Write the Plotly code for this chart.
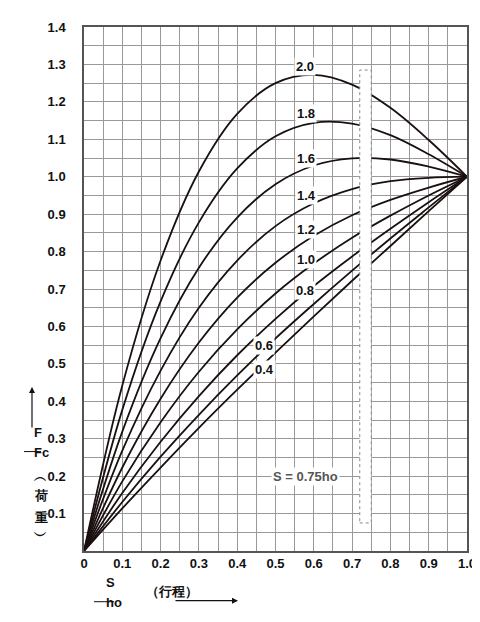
import plotly.graph_objects as go

x_vals = [0, 0.1, 0.2, 0.3, 0.4, 0.5, 0.6, 0.7, 0.8, 0.9, 1.0]
series = {
    "2.0": [0, 0.442, 0.776, 1.014, 1.168, 1.250, 1.272, 1.246, 1.184, 1.098, 1.0],
    "1.8": [0, 0.377, 0.667, 0.878, 1.022, 1.108, 1.144, 1.142, 1.111, 1.060, 1.0],
    "1.6": [0, 0.319, 0.569, 0.757, 0.891, 0.980, 1.030, 1.049, 1.046, 1.027, 1.0],
    "1.4": [0, 0.268, 0.482, 0.650, 0.776, 0.868, 0.929, 0.967, 0.988, 0.997, 1.0],
    "1.2": [0, 0.223, 0.407, 0.557, 0.677, 0.770, 0.842, 0.897, 0.938, 0.971, 1.0],
    "1.0": [0, 0.186, 0.344, 0.479, 0.592, 0.688, 0.768, 0.837, 0.896, 0.950, 1.0],
    "0.8": [0, 0.155, 0.292, 0.414, 0.523, 0.620, 0.708, 0.787, 0.861, 0.932, 1.0],
    "0.6": [0, 0.131, 0.252, 0.364, 0.469, 0.568, 0.660, 0.749, 0.835, 0.918, 1.0],
    "0.4": [0, 0.114, 0.223, 0.329, 0.431, 0.530, 0.627, 0.722, 0.815, 0.908, 1.0],
}
label_pos = {
    "2.0": (0.577, 1.295), "1.8": (0.58, 1.17), "1.6": (0.58, 1.05),
    "1.4": (0.58, 0.95), "1.2": (0.58, 0.86), "1.0": (0.58, 0.78),
    "0.8": (0.577, 0.695), "0.6": (0.47, 0.55), "0.4": (0.47, 0.485),
}
x_ticks = [i * 0.05 for i in range(21)]
x_text = ["<b>%s</b>" % (("0" if i == 0 else "%.1f" % (i * 0.05))) if i % 2 == 0 else "" for i in range(21)]
y_ticks = [i * 0.05 for i in range(29)]
y_text = ["<b>%.1f</b>" % (i * 0.05) if (i % 2 == 0 and i > 0) else "" for i in range(29)]

FONT = "Liberation Sans"
fig = go.Figure()
for k, ys in series.items():
    fig.add_trace(go.Scatter(x=x_vals, y=ys, mode="lines", line=dict(color="#1a1010", width=1.8, shape="spline"),
                             showlegend=False, hoverinfo="skip"))

fig.add_shape(type="rect", x0=0.72, x1=0.75, y0=0.075, y1=1.285, fillcolor="white",
              line=dict(color="#888", width=1, dash="dot"), layer="above")

anns = []
for k, (lx, ly) in label_pos.items():
    anns.append(dict(x=lx, y=ly, text="<b>%s</b>" % k, showarrow=False, bgcolor="white",
                     font=dict(size=13, color="#111", family=FONT)))
anns.append(dict(x=0.578, y=0.2, text="<b>S = 0.75ho</b>", showarrow=False, bgcolor="white",
                 font=dict(size=13, color="#555", family=FONT)))
P = dict(xref="paper", yref="paper", showarrow=False, font=dict(size=13, color="#111", family=FONT))
def px(xp, yp):
    return (xp - 76) / 383, (543 - yp) / 527
for txt, xp, yp in [("<b>F</b>", 24, 433), ("<b>Fc</b>", 24, 453), ("<b>︵</b>", 24, 478),
                    ("<b>荷</b>", 24, 497), ("<b>重</b>", 24, 519), ("<b>︶</b>", 24, 537),
                    ("<b>S</b>", 96, 584), ("<b>ho</b>", 96, 604), ("<b>（行程）</b>", 136, 593)]:
    a, b = px(xp, yp)
    anns.append(dict(P, x=a, y=b, text=txt))
a1, b1 = px(24, 378)
anns.append(dict(xref="paper", yref="paper", x=a1, y=b1, ax=0, ay=42, axref="pixel", ayref="pixel",
                 showarrow=True, arrowhead=2, arrowsize=1, arrowwidth=1.2, arrowcolor="#111", text=""))
a1, b1 = px(230, 593)
anns.append(dict(xref="paper", yref="paper", x=a1, y=b1, ax=-64, ay=0, axref="pixel", ayref="pixel",
                 showarrow=True, arrowhead=2, arrowsize=1, arrowwidth=1.2, arrowcolor="#111", text=""))
fig.update_layout(annotations=anns)
for (xa, ya, xb, yb) in [(16, 443, 33, 443), (86, 594, 106, 594)]:
    a0, b0 = px(xa, ya); a1, b1 = px(xb, yb)
    fig.add_shape(type="line", xref="paper", yref="paper", x0=a0, y0=b0, x1=a1, y1=b1,
                  line=dict(color="#111", width=1))

fig.update_layout(
    width=480, height=622, margin=dict(l=76, r=21, t=16, b=79),
    plot_bgcolor="white", paper_bgcolor="white",
    xaxis=dict(range=[0, 1.0], tickvals=x_ticks, ticktext=x_text, showgrid=True, gridcolor="#999",
               gridwidth=1, zeroline=False, showline=True, linecolor="#555", linewidth=1.5, mirror=True,
               ticks="", tickfont=dict(size=13, color="#111", family=FONT)),
    yaxis=dict(range=[0, 1.4], tickvals=y_ticks, ticktext=y_text, showgrid=True, gridcolor="#999",
               gridwidth=1, zeroline=False, showline=True, linecolor="#555", linewidth=1.5, mirror=True,
               ticks="", ticklabelstandoff=14, tickfont=dict(size=13, color="#111", family=FONT)),
)
fig.write_html("out.html")
